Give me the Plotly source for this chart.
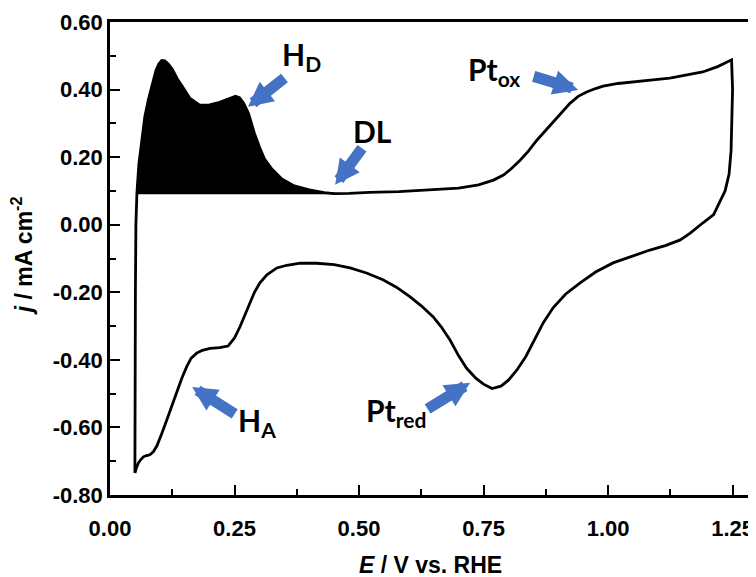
import numpy as np
import plotly.graph_objects as go

# Anodic (positive-going) scan
E_anodic = [0.050, 0.050, 0.051, 0.052, 0.054, 0.058, 0.064, 0.070, 0.077, 0.085, 0.092, 0.098,
            0.104, 0.110, 0.117, 0.125, 0.135, 0.145, 0.160, 0.180, 0.200, 0.220, 0.240, 0.252,
            0.260, 0.268, 0.278, 0.290, 0.300, 0.310, 0.325, 0.345, 0.370, 0.400, 0.430, 0.450,
            0.480, 0.520, 0.580, 0.650, 0.700, 0.740, 0.770, 0.790, 0.805, 0.823, 0.840, 0.857,
            0.873, 0.890, 0.907, 0.924, 0.940, 0.957, 0.975, 0.990, 1.020, 1.058, 1.090, 1.124,
            1.160, 1.190, 1.220, 1.248]
j_anodic = [-0.735, -0.500, -0.200, 0.000, 0.093, 0.180, 0.250, 0.320, 0.370, 0.420, 0.455, 0.476,
            0.486, 0.485, 0.476, 0.460, 0.432, 0.410, 0.375, 0.354, 0.355, 0.362, 0.372, 0.380,
            0.376, 0.360, 0.330, 0.270, 0.230, 0.195, 0.165, 0.135, 0.115, 0.103, 0.095, 0.092,
            0.093, 0.096, 0.098, 0.103, 0.108, 0.118, 0.132, 0.147, 0.165, 0.190, 0.218, 0.250,
            0.277, 0.305, 0.333, 0.360, 0.380, 0.393, 0.403, 0.410, 0.418, 0.425, 0.429, 0.434,
            0.443, 0.452, 0.468, 0.488]

# Cathodic (negative-going) scan
E_cathodic = [1.248, 1.250, 1.249, 1.247, 1.243, 1.235, 1.225, 1.212, 1.190, 1.165, 1.145, 1.115,
              1.084, 1.050, 1.010, 0.975, 0.944, 0.915, 0.890, 0.870, 0.850, 0.835, 0.817, 0.800,
              0.785, 0.767, 0.750, 0.735, 0.716, 0.700, 0.683, 0.665, 0.649, 0.625, 0.602, 0.575,
              0.548, 0.515, 0.482, 0.450, 0.415, 0.382, 0.355, 0.335, 0.315, 0.301, 0.290, 0.281,
              0.271, 0.261, 0.250, 0.237, 0.220, 0.201, 0.185, 0.174, 0.163, 0.154, 0.144, 0.134,
              0.124, 0.114, 0.104, 0.094, 0.087, 0.080, 0.072, 0.067, 0.062, 0.057, 0.053, 0.050]
j_cathodic = [0.488, 0.400, 0.300, 0.220, 0.150, 0.100, 0.070, 0.030, 0.005, -0.025, -0.045, -0.062,
              -0.075, -0.092, -0.113, -0.140, -0.172, -0.205, -0.245, -0.290, -0.350, -0.390, -0.430, -0.460,
              -0.478, -0.485, -0.472, -0.455, -0.425, -0.388, -0.342, -0.302, -0.273, -0.240, -0.213, -0.185,
              -0.163, -0.143, -0.128, -0.118, -0.114, -0.114, -0.120, -0.128, -0.148, -0.172, -0.200, -0.232,
              -0.265, -0.302, -0.335, -0.359, -0.364, -0.366, -0.372, -0.380, -0.395, -0.420, -0.455, -0.498,
              -0.538, -0.578, -0.618, -0.655, -0.672, -0.681, -0.684, -0.687, -0.695, -0.705, -0.720, -0.735]

# H desorption charge region
hd_baseline = 0.093
hd_E_max = 0.45

x_ticks = [0.00, 0.25, 0.50, 0.75, 1.00, 1.25]
y_ticks = [0.60, 0.40, 0.20, 0.00, -0.20, -0.40, -0.60, -0.80]

Ea = np.array(E_anodic)
ja = np.array(j_anodic)
mask = (Ea <= hd_E_max) & (ja >= hd_baseline)
fx = list(Ea[mask]) + [hd_E_max, Ea[mask][0]]
fy = list(ja[mask]) + [hd_baseline, hd_baseline]

fig = go.Figure()
fig.add_trace(go.Scatter(x=fx, y=fy, mode="lines", fill="toself", fillcolor="black",
                         line=dict(color="black", width=1), hoverinfo="skip"))
fig.add_trace(go.Scatter(x=[Ea[mask][0], hd_E_max], y=[hd_baseline, hd_baseline], mode="lines",
                         line=dict(color="black", width=2)))
fig.add_trace(go.Scatter(x=E_anodic + E_cathodic, y=j_anodic + j_cathodic, mode="lines",
                         line=dict(color="black", width=2.8)))

tick_font = dict(family="Liberation Sans, Arial", size=22, color="black", weight="bold")
title_font = dict(family="Liberation Sans, Arial", size=23, color="black", weight="bold")
fig.update_xaxes(range=[0, 1.287], tickvals=x_ticks, ticktext=[f"{v:.2f}" for v in x_ticks],
                 ticks="inside", ticklen=10, tickwidth=2, tickcolor="black", ticklabelstandoff=12,
                 minor=dict(ticks="inside", ticklen=6, tickwidth=2, tickcolor="black", dtick=0.125, tick0=0),
                 showline=True, linecolor="black", linewidth=2.5, mirror=True, showgrid=False, zeroline=False,
                 tickfont=tick_font, automargin=False)
fig.update_yaxes(range=[-0.8, 0.6], tickvals=y_ticks, ticktext=[f"{v:.2f}" for v in y_ticks],
                 ticks="inside", ticklen=10, tickwidth=2, tickcolor="black",
                 minor=dict(ticks="inside", ticklen=6, tickwidth=2, tickcolor="black", dtick=0.1, tick0=0),
                 showline=True, linecolor="black", linewidth=2.5, mirror=True, showgrid=False, zeroline=False,
                 tickfont=tick_font, automargin=False)

# axis titles
fig.add_annotation(xref="paper", yref="paper", x=0.5, y=-0.148, xanchor="center", yanchor="middle",
                   text="<i>E</i> / V vs. RHE", showarrow=False, font=title_font)
fig.add_annotation(xref="paper", yref="paper", x=-0.137, y=0.505, xanchor="center", yanchor="middle",
                   text="<i>j</i> / mA cm<sup>-2</sup>", textangle=-90, showarrow=False, font=title_font)

arrow_color = "#4472C4"
lab_font = dict(family="Lato, Open Sans", size=30, color="black", weight="bold")
arrows = [
    (0.277, 0.349, 38, -30),
    (0.452, 0.118, 28, -38),
    (0.940, 0.399, -46, -14),
    (0.165, -0.480, 44, 28),
    (0.723, -0.468, -44, 27),
]
for (x, y, ax, ay) in arrows:
    fig.add_annotation(x=x, y=y, ax=ax, ay=ay, text="", showarrow=True, arrowhead=2, arrowsize=0.45,
                       arrowwidth=11, arrowcolor=arrow_color, standoff=0)

labels = [
    (0.385, 0.500, "H<sub>D</sub>"),
    (0.528, 0.278, "DL"),
    (0.770, 0.455, "Pt<sub>ox</sub>"),
    (0.296, -0.583, "H<sub>A</sub>"),
    (0.575, -0.553, "Pt<sub>red</sub>"),
]
for (x, y, t) in labels:
    fig.add_annotation(x=x, y=y, text=t, showarrow=False, font=lab_font)

# page body has an 8px default margin, so the figure is sized to fit the window
fig.update_layout(width=748, height=569, margin=dict(l=102, r=5, t=14, b=82),
                  plot_bgcolor="white", paper_bgcolor="white", showlegend=False)

fig.write_html("out.html")
